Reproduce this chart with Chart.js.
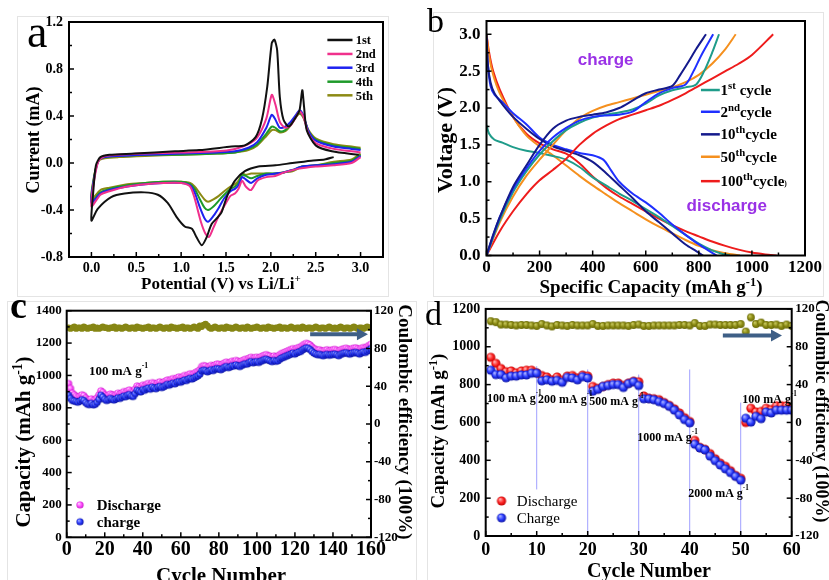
<!DOCTYPE html>
<html><head><meta charset="utf-8">
<script src="https://cdn.jsdelivr.net/npm/chart.js@4.4.1/dist/chart.umd.min.js"></script>
<style>
html,body{margin:0;padding:0;background:#fff;}
#wrap{position:relative;width:829px;height:580px;overflow:hidden;background:#fff;}
canvas{position:absolute;}
.fr{position:absolute;border:1px solid #e4e4e4;}
</style></head><body><div id="wrap">
<div class="fr" style="left:17px;top:16px;width:370px;height:279px"></div>
<div class="fr" style="left:433px;top:12px;width:389px;height:283px"></div>
<div class="fr" style="left:7px;top:301px;width:408px;height:290px"></div>
<div class="fr" style="left:427px;top:301px;width:410px;height:290px"></div>
<canvas id="ca" width="415" height="300" style="left:0;top:0"></canvas>
<canvas id="cb" width="414" height="300" style="left:415px;top:0"></canvas>
<canvas id="cc" width="415" height="285" style="left:0;top:295px"></canvas>
<canvas id="cd" width="414" height="285" style="left:415px;top:295px"></canvas>
</div>
<script>
// ---------------- DATA ----------------
// Panel a : cyclic voltammetry (potential V, current mA)
const cv1V = [2.70,2.60,2.45,2.24,2.05,1.86,1.71,1.60,1.53,1.49,1.45,1.41,1.34,1.28,1.23,1.17,1.12,1.04,0.95,0.85,0.74,0.59,0.37,0.22,0.07,0.00,
              0.02,0.05,0.10,0.20,0.48,0.93,1.20,1.56,1.71,1.83,1.90,1.96,2.01,2.04,2.07,2.10,2.14,2.20,2.27,2.32,2.35,2.37,2.40,2.50,2.68,2.98];
const cv1I = [0.05,0.03,0.02,0.00,-0.02,-0.03,-0.07,-0.15,-0.25,-0.33,-0.42,-0.46,-0.52,-0.64,-0.70,-0.63,-0.56,-0.54,-0.46,-0.34,-0.27,-0.25,-0.26,-0.29,-0.39,-0.49,
              -0.25,-0.02,0.05,0.07,0.08,0.10,0.11,0.14,0.15,0.22,0.37,0.65,1.02,1.05,0.96,0.56,0.37,0.31,0.38,0.45,0.62,0.48,0.28,0.15,0.10,0.07];
const cv2CathV = [3.00,2.90,2.70,2.50,2.30,2.15,2.05,1.95,1.85,1.78,1.72,1.68,1.64,1.60,1.55,1.50,1.42,1.36,1.31,1.27,1.22,1.15,1.10,1.00,0.80,0.60,0.40,0.20,0.10,0.00];
const cv2CathI = [0.05,0.00,-0.02,-0.03,-0.05,-0.08,-0.11,-0.12,-0.15,-0.23,-0.20,-0.15,-0.22,-0.26,-0.28,-0.34,-0.45,-0.55,-0.63,-0.60,-0.50,-0.30,-0.20,-0.17,-0.17,-0.18,-0.20,-0.24,-0.27,-0.37];
const cvCathV  = [3.00,2.90,2.70,2.50,2.35,2.24,2.14,2.05,1.95,1.85,1.78,1.72,1.68,1.64,1.60,1.55,1.48,1.42,1.36,1.30,1.26,1.21,1.15,1.10,1.00,0.80,0.60,0.40,0.20,0.10,0.00];
const cvAnodV  = [0.03,0.08,0.15,0.30,0.60,1.00,1.40,1.60,1.75,1.85,1.95,2.01,2.05,2.10,2.16,2.22,2.28,2.32,2.36,2.42,2.50,2.70,2.90,3.00];
const cv2AnodI = [-0.15,0.02,0.06,0.07,0.08,0.09,0.10,0.12,0.16,0.22,0.38,0.58,0.50,0.35,0.30,0.32,0.39,0.44,0.40,0.25,0.17,0.12,0.10,0.09];
const cv3CathI = [0.06,0.01,-0.01,-0.02,-0.03,-0.06,-0.08,-0.09,-0.10,-0.13,-0.17,-0.14,-0.12,-0.19,-0.22,-0.24,-0.30,-0.38,-0.45,-0.50,-0.47,-0.38,-0.25,-0.19,-0.17,-0.17,-0.18,-0.20,-0.23,-0.26,-0.34];
const cv3AnodI = [-0.13,0.02,0.05,0.06,0.07,0.08,0.09,0.10,0.13,0.18,0.30,0.41,0.37,0.30,0.31,0.35,0.41,0.45,0.41,0.27,0.19,0.14,0.12,0.11];
const cv4CathI = [0.07,0.02,0.00,-0.02,-0.03,-0.06,-0.08,-0.09,-0.09,-0.11,-0.13,-0.11,-0.10,-0.17,-0.20,-0.22,-0.27,-0.32,-0.37,-0.40,-0.38,-0.31,-0.22,-0.18,-0.16,-0.16,-0.17,-0.19,-0.22,-0.25,-0.33];
const cv4AnodI = [-0.12,0.02,0.05,0.06,0.07,0.07,0.08,0.09,0.12,0.16,0.25,0.31,0.30,0.27,0.28,0.33,0.40,0.43,0.40,0.27,0.20,0.15,0.13,0.12];
const cv5CathI = [0.08,0.03,0.01,-0.02,-0.03,-0.07,-0.08,-0.09,-0.09,-0.09,-0.09,-0.10,-0.09,-0.15,-0.18,-0.20,-0.24,-0.28,-0.31,-0.33,-0.31,-0.26,-0.20,-0.17,-0.16,-0.16,-0.17,-0.18,-0.21,-0.23,-0.31];
const cv5AnodI = [-0.11,0.02,0.04,0.05,0.06,0.07,0.08,0.09,0.11,0.15,0.23,0.28,0.28,0.26,0.27,0.32,0.39,0.42,0.39,0.28,0.21,0.16,0.14,0.13];
const cvLabels = ['1st','2nd','3rd','4th','5th'];

// Panel b : charge / discharge profiles (capacity mAh/g, voltage V)
const b1ChC = [0,50,100,150,200,250,300,350,400,450,500,550,600,650,700,750,790,820,850,876];
const b1ChV = [0,0.48,0.86,1.14,1.37,1.55,1.70,1.80,1.87,1.91,1.94,1.98,2.06,2.17,2.24,2.28,2.32,2.50,2.75,3.00];
const b2ChC = [0,50,100,150,200,250,300,350,400,450,500,550,600,650,700,750,780,810,854];
const b2ChV = [0,0.52,0.90,1.18,1.42,1.60,1.73,1.83,1.88,1.90,1.91,1.95,2.08,2.20,2.27,2.32,2.50,2.72,3.00];
const b10ChC = [0,25,50,100,150,200,250,300,350,400,450,500,550,600,650,700,730,760,790,827];
const b10ChV = [0,0.28,0.52,0.93,1.22,1.50,1.72,1.83,1.88,1.91,1.94,2.00,2.10,2.20,2.25,2.30,2.45,2.62,2.80,3.00];
const b50ChC = [0,50,100,150,200,250,300,350,400,450,500,550,600,650,700,750,800,850,900,939];
const b50ChV = [0,0.45,0.80,1.08,1.30,1.50,1.70,1.86,1.96,2.03,2.08,2.13,2.18,2.23,2.28,2.35,2.45,2.60,2.80,3.00];
const b100ChC = [0,50,100,150,200,250,300,350,400,450,500,550,600,650,700,750,800,850,900,950,1000,1080];
const b100ChV = [0,0.33,0.60,0.83,1.02,1.16,1.31,1.50,1.65,1.76,1.85,1.91,1.97,2.03,2.11,2.20,2.30,2.40,2.50,2.60,2.72,3.00];
const b1DisC = [0,10,30,60,100,150,200,250,300,350,400,450,500,550,600,650,700,750,800,850,890,917];
const b1DisV = [1.77,1.65,1.57,1.53,1.47,1.42,1.39,1.35,1.30,1.20,1.06,0.95,0.84,0.74,0.63,0.52,0.40,0.28,0.16,0.07,0.02,0];
const b2DisC = [0,5,15,30,60,100,150,200,250,300,350,400,440,470,500,550,600,650,700,750,800,840,867];
const b2DisV = [2.95,2.60,2.30,2.18,2.08,1.93,1.78,1.60,1.50,1.44,1.39,1.36,1.30,1.15,1.00,0.84,0.72,0.58,0.42,0.28,0.15,0.06,0];
const b10DisC = [0,5,15,30,60,100,150,200,250,300,350,400,450,500,550,600,650,700,750,790,816];
const b10DisV = [3.00,2.60,2.35,2.20,2.05,1.88,1.72,1.58,1.48,1.42,1.36,1.27,1.12,0.95,0.78,0.60,0.45,0.30,0.15,0.06,0];
const b50DisC = [0,10,25,50,100,150,200,250,300,350,400,450,500,550,600,650,700,750,800,850,900,955];
const b50DisV = [3.00,2.70,2.45,2.20,1.88,1.63,1.48,1.36,1.22,1.08,0.95,0.83,0.71,0.60,0.49,0.39,0.30,0.21,0.13,0.07,0.03,0];
const b100DisC = [0,10,25,50,100,150,200,250,300,350,400,450,500,550,600,650,700,750,800,850,900,950,1000,1050,1093];
const b100DisV = [3.00,2.75,2.50,2.25,1.88,1.65,1.52,1.44,1.38,1.25,1.07,0.92,0.80,0.70,0.60,0.50,0.41,0.33,0.26,0.19,0.13,0.08,0.04,0.015,0];

// Panel c : cycling at 100 mA/g
const cCycles = Array.from({length:160},(_, i)=>i+1);
const cDischarge = [950,920,890,880,870,865,872,880,875,860, 850,848,855,845,850,862,880,905,895,880,
  872,878,885,880,875,882,890,885,892,900, 895,905,910,900,898,915,935,930,925,940,
  935,945,950,942,955,950,945,955,960,952, 958,965,972,968,975,980,975,985,990,985,
  992,1000,995,1005,1010,1005,1012,1020,1025,1035, 1055,1060,1058,1050,1055,1062,1058,1065,1070,1068,
  1062,1070,1078,1082,1075,1080,1088,1085,1092,1088, 1082,1090,1095,1100,1098,1108,1112,1105,1110,1112,
  1108,1115,1120,1125,1128,1122,1118,1112,1120,1115, 1118,1128,1135,1140,1145,1150,1155,1160,1165,1160,
  1168,1172,1175,1185,1192,1198,1195,1188,1175,1165, 1160,1155,1158,1152,1150,1155,1158,1152,1155,1158,
  1160,1155,1150,1158,1162,1165,1168,1162,1160,1165, 1168,1170,1165,1160,1168,1172,1170,1178,1185,1192];
const cCharge = [878,858,845,842,838,835,842,850,845,832, 822,820,828,818,822,834,852,878,866,852,
  845,850,858,852,848,855,862,858,865,872, 868,878,882,872,870,888,908,902,898,912,
  908,918,922,915,928,922,918,928,932,925, 930,938,945,940,948,952,948,958,962,958,
  965,972,968,978,982,978,985,992,998,1008, 1028,1032,1030,1022,1028,1035,1030,1038,1042,1040,
  1035,1042,1050,1055,1048,1052,1060,1058,1065,1060, 1055,1062,1068,1072,1070,1080,1085,1078,1082,1085,
  1080,1088,1092,1098,1100,1095,1090,1085,1092,1088, 1090,1100,1108,1112,1118,1122,1128,1132,1138,1132,
  1140,1145,1148,1158,1165,1170,1168,1160,1148,1138, 1132,1128,1130,1125,1122,1128,1130,1125,1128,1130,
  1132,1128,1122,1130,1135,1138,1140,1135,1132,1138, 1140,1142,1138,1132,1140,1145,1142,1150,1158,1165];
const cEfficiency = [102,101,102,103,101,102,102,101,103,102, 101,102,102,103,101,102,101,102,103,102,
  102,101,102,102,103,101,102,102,101,102, 103,102,101,102,102,101,103,102,102,101,
  102,102,103,101,102,102,101,102,103,102, 101,102,102,101,103,102,102,101,102,102,
  103,101,102,102,101,102,103,102,101,104, 103,105,106,104,102,101,102,103,102,101,
  102,102,101,103,102,102,101,102,103,102, 101,102,102,101,103,102,101,102,102,103,
  102,101,102,102,101,103,102,102,101,102, 102,103,101,102,102,101,102,103,102,101,
  102,102,101,103,102,101,102,102,101,102, 103,102,101,102,102,101,102,103,102,101,
  102,101,102,103,102,101,102,102,101,102, 103,102,101,102,102,101,102,103,102,102];

// Panel d : rate capability
const dCycles = Array.from({length:60},(_, i)=>i+1);
const dDischarge = [944,912,885,868,872,862,872,876,876,862, 848,840,825,840,822,845,848,835,850,845,
  790,780,790,800,808,808,795,808,818,815, 740,728,725,720,705,690,672,650,625,605,
  505,468,458,435,408,385,368,345,320,305, 600,675,655,658,675,668,688,688,688,672];
const dCharge = [876,853,853,836,845,845,851,851,860,860, 820,825,818,822,812,838,835,825,842,835,
  765,775,790,795,800,800,785,805,815,795, 725,725,720,710,700,685,665,640,615,598,
  485,465,455,422,398,375,355,335,315,295, 622,602,632,620,655,650,665,665,665,665];
const dEfficiency = [107,106,103.5,103.5,103,102.5,103,103,102.5,102, 104,102.5,101.5,103,102.5,102,103,102.5,102.5,102.5,
  104,102,102,102.5,102.5,102.5,102.5,102,103,103.5, 102,102,102.5,102.5,102.5,102.5,102.5,103,103,102.5,
  105,102,102,103.5,103.5,103,103,103,103,104, 96,111,104,105.5,103,103,103.5,102,103.5,102];
const dRates = ['100','200','500','1000','2000','100'];

// tick labels
const aXTicks=[0,0.5,1,1.5,2,2.5,3], aYTicks=[-0.8,-0.4,0,0.4,0.8,1.2];
const bXTicks=[0,200,400,600,800,1000,1200], bYTicks=[0,0.5,1,1.5,2,2.5,3];
const cXTicks=[0,20,40,60,80,100,120,140,160], cYTicks=[0,200,400,600,800,1000,1200,1400];
const effTicks=[-120,-80,-40,0,40,80,120];
const dXTicks=[0,10,20,30,40,50,60], dYTicks=[0,200,400,600,800,1000,1200];

// ---------------- HELPERS ----------------
const SERIF = "'Liberation Serif','Times New Roman',serif";
const SANS = "'Liberation Sans',Arial,sans-serif";
Chart.defaults.font.family = SERIF;
Chart.defaults.color = '#000';
const pts = (xs, ys) => xs.map((x,i)=>({x, y:ys[i]}));

function sphere(r, light, base, dark){
  const c=document.createElement('canvas'); const s=Math.ceil(r*2+2); c.width=c.height=s;
  const g=c.getContext('2d'); const m=s/2;
  const gr=g.createRadialGradient(m-r*0.35,m-r*0.4,r*0.1,m,m,r);
  gr.addColorStop(0,light); gr.addColorStop(0.55,base); gr.addColorStop(1,dark);
  g.fillStyle=gr; g.beginPath(); g.arc(m,m,r,0,Math.PI*2); g.fill();
  return c;
}
const sphMag = sphere(3.6,'#ffd0ff','#ff4dff','#c81ec8');
const sphBlueS = sphere(3.6,'#a0aaff','#2a3cff','#0a10a0');
const sphRed = sphere(4.6,'#ffb0b0','#ff2626','#c00000');
const sphBlue = sphere(4.6,'#a8b0ff','#2a3cff','#0a10a0');
const sphOlive = sphere(3.9,'#c8c860','#8c8c14','#6a6a08');

function richText(ctx, it, x, y){
  const size=it.size||14, weight=it.weight||'bold', fam=it.family||SERIF;
  const parts=it.parts.map(p=>typeof p==='string'?{t:p}:Object.assign({},p));
  let total=0;
  parts.forEach(p=>{
    p.s = p.sup ? size*(p.scale||0.65) : size*(p.scale||1);
    p.dy = p.sup ? -size*(p.rise||0.38) : 0;
    ctx.font=`${weight} ${p.s}px ${fam}`; p.w=ctx.measureText(p.t).width; total+=p.w;
  });
  ctx.save(); ctx.translate(x,y); ctx.rotate((it.rot||0)*Math.PI/180);
  let cx = it.align==='center'?-total/2: it.align==='right'?-total:0;
  const by = it.vc ? size*0.34 : 0;
  ctx.textAlign='left'; ctx.textBaseline='alphabetic'; ctx.fillStyle=it.color||'#000';
  parts.forEach(p=>{ ctx.font=`${weight} ${p.s}px ${fam}`; ctx.fillText(p.t,cx,by+p.dy); cx+=p.w; });
  ctx.restore();
}
function P(chart, it){
  if (it.at) return it.at;
  return [chart.scales[it.xa||'x'].getPixelForValue(it.pos[0]), chart.scales[it.ya||'y'].getPixelForValue(it.pos[1])];
}
function makeDecor(o){
  return {
  id:'decor',
  beforeDatasetsDraw(chart){
    const ctx=chart.ctx;
    (o.vlines||[]).forEach(l=>{
      const xs=chart.scales.x, ys=chart.scales.y, px=xs.getPixelForValue(l.x);
      ctx.save(); ctx.strokeStyle=l.color; ctx.lineWidth=1; ctx.beginPath();
      ctx.moveTo(px,ys.getPixelForValue(l.y1)); ctx.lineTo(px,ys.getPixelForValue(l.y2)); ctx.stroke(); ctx.restore();
    });
  },
  afterDatasetsDraw(chart){
    const ctx=chart.ctx, ca=chart.chartArea;
    ctx.save();
    ctx.strokeStyle='#000'; ctx.lineWidth=1.5;
    (o.ticks||[]).forEach(t=>{
      const sc=chart.scales[t.axis]; let k=0;
      for (let v=t.from; v<=t.to+1e-9; v+=t.step, k++){
        const len = (k % t.every===0) ? 5 : 3; const p=sc.getPixelForValue(v);
        ctx.beginPath();
        if (t.side==='bottom'){ctx.moveTo(p,ca.bottom);ctx.lineTo(p,ca.bottom-len);}
        else if (t.side==='left'){ctx.moveTo(ca.left,p);ctx.lineTo(ca.left+len,p);}
        else {ctx.moveTo(ca.right,p);ctx.lineTo(ca.right-len,p);}
        ctx.stroke();
      }
    });
    ctx.lineWidth=2; ctx.strokeRect(ca.left,ca.top,ca.right-ca.left,ca.bottom-ca.top);
    (o.lines||[]).forEach(l=>{
      const p1=P(chart,{pos:[l.x1,l.y]}), p2=P(chart,{pos:[l.x2,l.y]});
      ctx.strokeStyle=l.color; ctx.lineWidth=l.width||2.5; ctx.beginPath(); ctx.moveTo(p1[0],p1[1]); ctx.lineTo(p2[0],p2[1]); ctx.stroke();
    });
    (o.markers||[]).forEach(m=>{ const p=P(chart,m); ctx.drawImage(m.img,p[0]-m.img.width/2,p[1]-m.img.height/2); });
    (o.arrows||[]).forEach(r=>{
      const p1=P(chart,{pos:[r.x1,r.y],ya:r.ya}), p2=P(chart,{pos:[r.x2,r.y],ya:r.ya});
      ctx.strokeStyle=r.color; ctx.fillStyle=r.color; ctx.lineWidth=4;
      ctx.beginPath(); ctx.moveTo(p1[0],p1[1]); ctx.lineTo(p2[0]-8,p2[1]); ctx.stroke();
      ctx.beginPath(); ctx.moveTo(p2[0],p2[1]); ctx.lineTo(p2[0]-11,p2[1]-6); ctx.lineTo(p2[0]-11,p2[1]+6); ctx.closePath(); ctx.fill();
    });
    (o.texts||[]).forEach(t=>{ const p=P(chart,t); richText(ctx,t,p[0],p[1]); });
    ctx.restore();
  }};
}
function axis(o){
  return {
    type:'linear', position:o.pos, min:o.min, max:o.max,
    grid:{display:false, drawTicks:false}, border:{display:false},
    afterBuildTicks:s=>{ s.ticks=o.ticks.map(v=>({value:v})); },
    afterFit:s=>{ if(o.pos==='left'||o.pos==='right') s.width=o.size; else s.height=o.size; },
    ticks:{autoSkip:false, maxRotation:0, padding:o.pad, color:'#000',
      font:{size:o.font, weight:'bold', family:SERIF}, callback:o.fmt||(v=>String(v))}
  };
}
function baseOpts(pad, scales){
  return {responsive:false, animation:false, devicePixelRatio:1, layout:{padding:pad},
    scales, plugins:{legend:{display:false}, tooltip:{enabled:false}}};
}

// ---------------- PANEL A ----------------
const cvColors=['#111111','#f0308c','#1e22f0','#1e9a2a','#8c8a14'];
const cvData=[
  pts(cv1V,cv1I),
  pts(cv2CathV.concat(cvAnodV), cv2CathI.concat(cv2AnodI)),
  pts(cvCathV.concat(cvAnodV), cv3CathI.concat(cv3AnodI)),
  pts(cvCathV.concat(cvAnodV), cv4CathI.concat(cv4AnodI)),
  pts(cvCathV.concat(cvAnodV), cv5CathI.concat(cv5AnodI))];
const legA=[1.047,0.928,0.811,0.692,0.576];
new Chart(document.getElementById('ca'),{
  type:'scatter',
  data:{datasets:cvData.map((d,i)=>({label:cvLabels[i],data:d,showLine:true,pointRadius:0,borderColor:cvColors[i],borderWidth:2,tension:0.25,order:i}))},
  options:baseOpts({left:0,top:22,right:32,bottom:0},{
    x:axis({pos:'bottom',min:-0.25,max:3.25,ticks:aXTicks,size:43,pad:2.5,font:14,fmt:v=>v.toFixed(1)}),
    y:axis({pos:'left',min:-0.8,max:1.2,ticks:aYTicks,size:69,pad:6,font:14,fmt:v=>v.toFixed(1)})
  }),
  plugins:[makeDecor({
    ticks:[{axis:'x',side:'bottom',from:0,to:3,step:0.25,every:2},{axis:'y',side:'left',from:-0.8,to:1.2,step:0.2,every:2}],
    lines:cvLabels.map((l,i)=>({x1:2.63,x2:2.91,y:legA[i],color:cvColors[i],width:2.5})),
    texts:[
      ...cvLabels.map((l,i)=>({pos:[2.945,legA[i]],parts:[l],size:12.5,vc:true})),
      {at:[27,47],parts:['a'],size:46,weight:'normal'},
      {at:[33,140],parts:['Current (mA)'],size:18,rot:-90,align:'center',vc:true},
      {at:[221,283],parts:['Potential (V) vs Li/Li',{t:'+',sup:true}],size:17,align:'center',vc:true}
    ]})]
});

// ---------------- PANEL B ----------------
const bColors={c1:'#1f9c8a',c2:'#1f30ff',c10:'#141a8c',c50:'#f5901e',c100:'#ee1c1c'};
const bSets=[
  [b10ChC,b10ChV,bColors.c10],[b2ChC,b2ChV,bColors.c2],[b1ChC,b1ChV,bColors.c1],[b50ChC,b50ChV,bColors.c50],[b100ChC,b100ChV,bColors.c100],
  [b10DisC,b10DisV,bColors.c10],[b2DisC,b2DisV,bColors.c2],[b1DisC,b1DisV,bColors.c1],[b50DisC,b50DisV,bColors.c50],[b100DisC,b100DisV,bColors.c100]];
const legB=[2.244,1.949,1.643,1.339,1.008];
const legBCols=[bColors.c1,bColors.c2,bColors.c10,bColors.c50,bColors.c100];
const legBTxt=[
  ['1',{t:'st',sup:true,scale:0.72,rise:0.42},' cycle'],
  ['2',{t:'nd',sup:true,scale:0.72,rise:0.42},'cycle'],
  ['10',{t:'th',sup:true,scale:0.72,rise:0.42},'cycle'],
  ['50',{t:'th',sup:true,scale:0.72,rise:0.42},'cycle'],
  ['100',{t:'th',sup:true,scale:0.72,rise:0.42},'cycle',{t:')',scale:0.5}]];
new Chart(document.getElementById('cb'),{
  type:'scatter',
  data:{datasets:bSets.map(s=>({data:pts(s[0],s[1]),showLine:true,pointRadius:0,borderColor:s[2],borderWidth:2,tension:0.3}))},
  options:baseOpts({left:0,top:21,right:24,bottom:0},{
    x:axis({pos:'bottom',min:0,max:1200,ticks:bXTicks,size:44.5,pad:2.3,font:17}),
    y:axis({pos:'left',min:0,max:3.18,ticks:bYTicks,size:71.5,pad:6,font:17,fmt:v=>v.toFixed(1)})
  }),
  plugins:[makeDecor({
    ticks:[{axis:'x',side:'bottom',from:0,to:1200,step:100,every:2},{axis:'y',side:'left',from:0,to:3,step:0.25,every:2}],
    lines:legBCols.map((c,i)=>({x1:808,x2:879,y:legB[i],color:c,width:2.5})),
    texts:[
      ...legBTxt.map((p,i)=>({pos:[882,legB[i]],parts:p,size:15,vc:true})),
      {pos:[344,2.66],parts:['charge'],size:17,family:SANS,color:'#9a32e6',vc:true},
      {pos:[754,0.68],parts:['discharge'],size:17,family:SANS,color:'#9a32e6',vc:true},
      {at:[12,32],parts:['b'],size:34,weight:'normal'},
      {at:[30,140],parts:['Voltage (V)'],size:22,rot:-90,align:'center',vc:true},
      {at:[236,287],parts:['Specific Capacity (mAh g',{t:'-1',sup:true},')'],size:19,align:'center',vc:true}
    ]})]
});

// ---------------- PANEL C ----------------
new Chart(document.getElementById('cc'),{
  type:'scatter',
  data:{datasets:[
    {label:'charge',data:pts(cCycles,cCharge),pointStyle:sphBlueS,pointRadius:3.6,yAxisID:'y'},
    {label:'Discharge',data:pts(cCycles,cDischarge),pointStyle:sphMag,pointRadius:3.6,yAxisID:'y'},
    {label:'Coulombic efficiency',data:pts(cCycles,cEfficiency),pointRadius:3.2,pointBackgroundColor:'#868614',pointBorderWidth:0,yAxisID:'y2'}
  ]},
  options:baseOpts({left:0,top:15.7,right:0,bottom:0},{
    x:axis({pos:'bottom',min:0,max:160,ticks:cXTicks,size:42.7,pad:0.7,font:20}),
    y:axis({pos:'left',min:0,max:1400,ticks:cYTicks,size:66.7,pad:5,font:13}),
    y2:axis({pos:'right',min:-120,max:120,ticks:effTicks,size:44,pad:3,font:13})
  }),
  plugins:[makeDecor({
    ticks:[{axis:'x',side:'bottom',from:0,to:160,step:10,every:2},{axis:'y',side:'left',from:0,to:1400,step:100,every:2},{axis:'y2',side:'right',from:-120,to:120,step:20,every:2}],
    markers:[{pos:[7,200],img:sphMag},{pos:[7,96],img:sphBlueS}],
    arrows:[{x1:128,x2:158.4,y:95,ya:'y2',color:'#3e5f86'}],
    texts:[
      {pos:[15.8,200],parts:['Discharge'],size:15,vc:true},
      {pos:[15.8,96],parts:['charge'],size:15,vc:true},
      {pos:[11.7,1033],parts:['100 mA g',{t:'-1',sup:true,scale:0.6,rise:0.5}],size:13,vc:true},
      {at:[10,23],parts:['c'],size:38},
      {at:[23,147],parts:['Capacity (mAh g',{t:'-1',sup:true},')'],size:21,rot:-90,align:'center',vc:true},
      {at:[221,280],parts:['Cycle Number'],size:21,align:'center',vc:true},
      {at:[405,127],parts:['Coulombic efficiency (100%)'],size:19,rot:90,align:'center',vc:true}
    ]})]
});

// ---------------- PANEL D ----------------
const rateAt=[[0.25,729],[10.25,724],[20.3,714],[29.7,525],[39.7,226],[50.3,724]];
new Chart(document.getElementById('cd'),{
  type:'scatter',
  data:{datasets:[
    {label:'Charge',data:pts(dCycles,dCharge),pointStyle:sphBlue,pointRadius:4.6,yAxisID:'y'},
    {label:'Discharge',data:pts(dCycles,dDischarge),pointStyle:sphRed,pointRadius:4.6,yAxisID:'y'},
    {label:'Coulombic efficiency',data:pts(dCycles,dEfficiency),pointStyle:sphOlive,pointRadius:3.9,yAxisID:'y2'}
  ]},
  options:baseOpts({left:0,top:12.3,right:0,bottom:0},{
    x:axis({pos:'bottom',min:0,max:60,ticks:dXTicks,size:44,pad:3.2,font:18}),
    y:axis({pos:'left',min:0,max:1200,ticks:dYTicks,size:70.7,pad:5.5,font:14}),
    y2:axis({pos:'right',min:-120,max:120,ticks:effTicks,size:37.3,pad:3.5,font:13})
  }),
  plugins:[makeDecor({
    vlines:[{x:10,y1:246,y2:897,color:'rgba(120,120,255,0.7)'},{x:20,y1:0,y2:880,color:'rgba(120,120,255,0.7)'},
            {x:30,y1:0,y2:853,color:'rgba(120,120,255,0.7)'},{x:40,y1:0,y2:880,color:'rgba(120,120,255,0.7)'},
            {x:50,y1:0,y2:705,color:'rgba(120,120,255,0.7)'}],
    ticks:[{axis:'x',side:'bottom',from:0,to:60,step:5,every:2},{axis:'y',side:'left',from:0,to:1200,step:100,every:2},{axis:'y2',side:'right',from:-120,to:120,step:20,every:2}],
    markers:[{pos:[3.1,185],img:sphRed},{pos:[3.1,96],img:sphBlue}],
    arrows:[{x1:46.5,x2:58.1,y:92,ya:'y2',color:'#3e5f86'}],
    texts:[
      {pos:[6.1,185],parts:['Discharge'],size:15,weight:'normal',vc:true},
      {pos:[6.1,96],parts:['Charge'],size:15,weight:'normal',vc:true},
      ...dRates.map((r,i)=>({pos:rateAt[i],parts:[r+' mA g',{t:'-1',sup:true,scale:0.6,rise:0.6}],size:12,vc:true})),
      {at:[10,30],parts:['d'],size:34,weight:'normal'},
      {at:[23,136],parts:['Capacity (mAh g',{t:'-1',sup:true},')'],size:19,rot:-90,align:'center',vc:true},
      {at:[234,275],parts:['Cycle Number'],size:20,align:'center',vc:true},
      {at:[407,116],parts:['Coulombic efficiency (100%)'],size:18,rot:90,align:'center',vc:true}
    ]})]
});
</script></body></html>
